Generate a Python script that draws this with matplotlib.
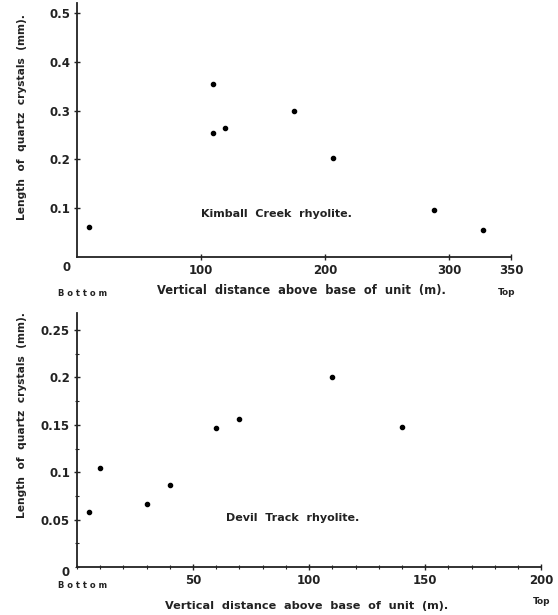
import matplotlib
matplotlib.use('Agg')
from matplotlib import pyplot as plt
from matplotlib.ticker import MultipleLocator

# Kimball Creek rhyolite: height above base (m) vs quartz crystal length (mm)
kimball_height = [10, 110, 110, 119, 175, 206, 288, 327]
kimball_length = [0.061, 0.355, 0.254, 0.264, 0.30, 0.203, 0.096, 0.055]
kimball_xticks = [100, 200, 300, 350]
kimball_yticks = [0.1, 0.2, 0.3, 0.4, 0.5]
kimball_yticklabels = ['0.1', '0.2', '0.3', '0.4', '0.5']

# Devil Track rhyolite
devil_height = [5, 10, 30, 40, 60, 70, 110, 140]
devil_length = [0.058, 0.105, 0.067, 0.087, 0.147, 0.156, 0.20, 0.148]
devil_xticks = [50, 100, 150, 200]
devil_yticks = [0.05, 0.1, 0.15, 0.2, 0.25]
devil_yticklabels = ['0.05', '0.1', '0.15', '0.2', '0.25']

ink = '#222222'
plt.rcParams['font.family'] = 'DejaVu Sans'
plt.rcParams['font.weight'] = 'bold'

fig = plt.figure(figsize=(5.58, 6.15), dpi=100)


def style_axes(ax, zero_y):
    for side in ['top', 'right']:
        ax.spines[side].set_visible(False)
    for side in ['left', 'bottom']:
        ax.spines[side].set_color(ink)
        ax.spines[side].set_linewidth(1.3)
    ax.tick_params(axis='both', colors=ink, labelsize=8.5, width=1, length=4,
                   direction='inout', pad=3)
    ax.tick_params(axis='both', which='minor', length=3, width=0.8,
                   direction='inout', colors=ink)
    ax.text(-0.015, zero_y, '0', transform=ax.transAxes, ha='right',
            va='center', fontsize=8.5, color=ink, fontweight='bold')


ylabel = 'Length  of  quartz  crystals  (mm).'
xlabel = 'Vertical  distance  above  base  of  unit  (m).'

# upper panel
ax1 = fig.add_axes([0.138, 0.582, 0.778, 0.413])
ax1.plot(kimball_height, kimball_length, 'o', color='black', markersize=3)
ax1.set_xlim(0, 350)
ax1.set_ylim(0, 0.52)
ax1.set_xticks(kimball_xticks)
ax1.set_yticks(kimball_yticks)
ax1.set_yticklabels(kimball_yticklabels)
style_axes(ax1, -0.04)
fig.text(0.039, 0.81, ylabel, rotation=90, fontsize=7.7, color=ink,
         ha='center', va='center', fontweight='bold')
ax1.text(0.285, 0.17, 'Kimball  Creek  rhyolite.', transform=ax1.transAxes,
         fontsize=8, color=ink, va='center')
fig.text(0.104, 0.523, 'B o t t o m', fontsize=6, color=ink, va='center')
fig.text(0.541, 0.527, xlabel, fontsize=8.3, color=ink, ha='center', va='center')
fig.text(0.893, 0.524, 'Top', fontsize=6.5, color=ink, va='center')

# lower panel
ax2 = fig.add_axes([0.138, 0.078, 0.832, 0.413])
ax2.plot(devil_height, devil_length, 'o', color='black', markersize=3)
ax2.set_xlim(0, 200)
ax2.set_ylim(0, 0.268)
ax2.set_xticks(devil_xticks)
ax2.set_yticks(devil_yticks)
ax2.set_yticklabels(devil_yticklabels)
ax2.xaxis.set_minor_locator(MultipleLocator(10))
ax2.yaxis.set_minor_locator(MultipleLocator(0.025))
style_axes(ax2, -0.02)
fig.text(0.039, 0.325, ylabel, rotation=90, fontsize=7.7, color=ink,
         ha='center', va='center', fontweight='bold')
ax2.text(0.32, 0.195, 'Devil  Track  rhyolite.', transform=ax2.transAxes,
         fontsize=8, color=ink, va='center')
fig.text(0.104, 0.048, 'B o t t o m', fontsize=6, color=ink, va='center')
fig.text(0.55, 0.014, xlabel, fontsize=8.1, color=ink, ha='center', va='center')
fig.text(0.955, 0.022, 'Top', fontsize=6.5, color=ink, va='center')

fig.savefig('out.png', dpi=100)
